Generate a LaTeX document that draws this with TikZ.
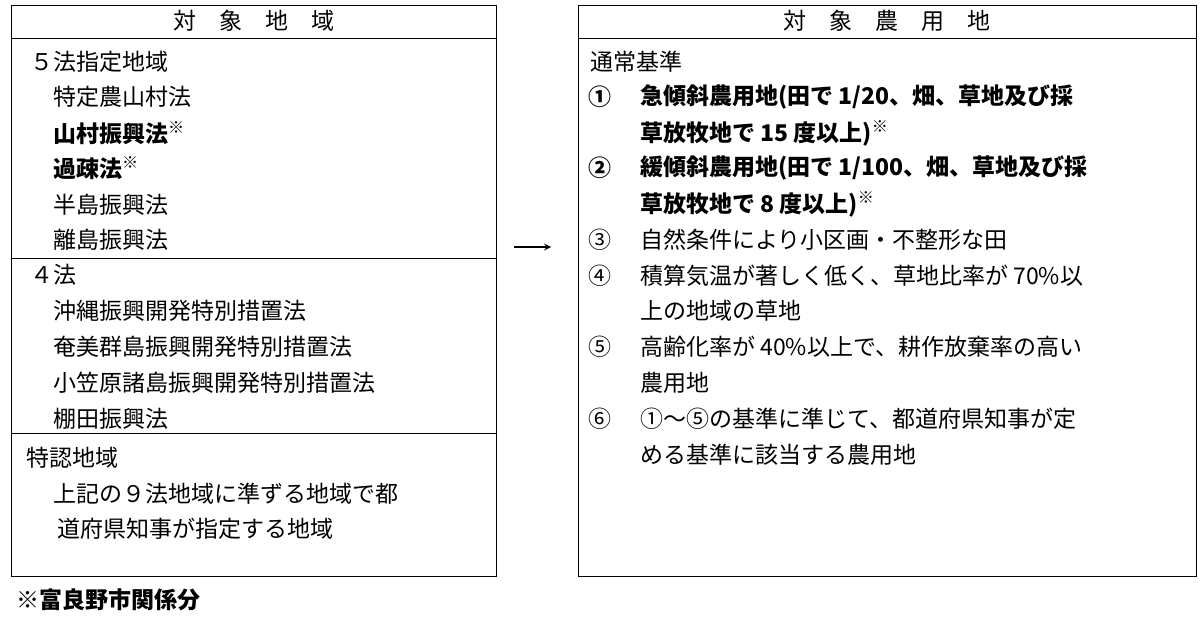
\documentclass[tikz,border=0pt]{standalone}
\usepackage{fontspec}
\setmainfont{Noto Sans CJK JP}
\newcommand{\kome}{\textsuperscript{※}}
\begin{document}
\begin{tikzpicture}[x=1pt,y=-1pt,
    txt/.style ={anchor=west, inner sep=0pt, font=\fontsize{23}{23}\selectfont},
    btxt/.style ={txt, font=\fontsize{23}{23}\selectfont\bfseries},
    box/.style ={draw, line width=0.9pt}]
   \useasboundingbox (0,0) rectangle (1200,618);
   % left box
   \draw[box] (11,5) rectangle (496,576);
   \draw[box] (11,38) -- (496,38);
   \draw[box] (11,258) -- (496,258);
   \draw[box] (11,433) -- (496,433);
   \node[txt, anchor=center] (lh) at (254,21) {対\hspace{1em}象\hspace{1em}地\hspace{1em}域};
   \node[txt] (l1)  at (30,62)  {５法指定地域};
   \node[txt] (l2)  at (53,97)  {特定農山村法};
   \node[btxt] (l3) at (53,133) {山村振興法\kome};
   \node[btxt] (l4) at (53,168) {過疎法\kome};
   \node[txt] (l5)  at (53,205) {半島振興法};
   \node[txt] (l6)  at (53,240) {離島振興法};
   \node[txt] (l7)  at (30,275) {４法};
   \node[txt] (l8)  at (53,311) {沖縄振興開発特別措置法};
   \node[txt] (l9)  at (53,347) {奄美群島振興開発特別措置法};
   \node[txt] (l10) at (53,383) {小笠原諸島振興開発特別措置法};
   \node[txt] (l11) at (53,419) {棚田振興法};
   \node[txt] (l12) at (26,458) {特認地域};
   \node[txt] (l13) at (53,494) {上記の９法地域に準ずる地域で都};
   \node[txt] (l14) at (57,529) {道府県知事が指定する地域};
   \node[btxt] (fn) at (16,600) {※富良野市関係分};
   % arrow
   \coordinate (as) at (514,247);
   \coordinate (ae) at (551,247);
   \draw[line width=2pt, -stealth] (as) -- (ae);
   % right box
   \draw[box] (578,5) rectangle (1196,576);
   \draw[box] (578,38) -- (1196,38);
   \node[txt, anchor=center] (rh) at (887,21) {対\hspace{1em}象\hspace{1em}農\hspace{1em}用\hspace{1em}地};
   \node[txt] (r0) at (590,62) {通常基準};
   \node[btxt] (n1) at (588,97) {①};
   \node[btxt] (r1) at (640,97) {急傾斜農用地(田で 1/20、畑、草地及び採};
   \node[btxt] (r1b) at (640,133) {草放牧地で 15 度以上)\kome};
   \node[btxt] (n2) at (588,168) {②};
   \node[btxt] (r2) at (640,168) {緩傾斜農用地(田で 1/100、畑、草地及び採};
   \node[btxt] (r2b) at (640,204) {草放牧地で 8 度以上)\kome};
   \node[txt] (n3) at (588,240) {③};
   \node[txt] (r3) at (640,240) {自然条件により小区画・不整形な田};
   \node[txt] (n4) at (588,276) {④};
   \node[txt] (r4) at (640,276) {積算気温が著しく低く、草地比率が 70\%以};
   \node[txt] (r4b) at (640,311) {上の地域の草地};
   \node[txt] (n5) at (588,347) {⑤};
   \node[txt] (r5) at (640,347) {高齢化率が 40\%以上で、耕作放棄率の高い};
   \node[txt] (r5b) at (640,383) {農用地};
   \node[txt] (n6) at (588,419) {⑥};
   \node[txt] (r6) at (640,419) {①〜⑤の基準に準じて、都道府県知事が定};
   \node[txt] (r6b) at (640,455) {める基準に該当する農用地};
\end{tikzpicture}
\end{document}
